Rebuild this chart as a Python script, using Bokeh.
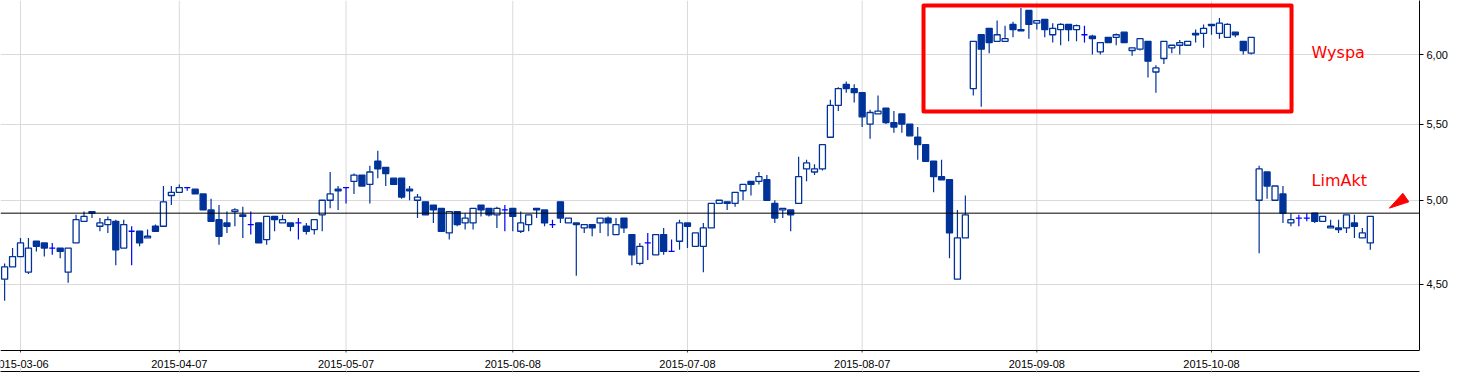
import numpy as np
from bokeh.plotting import figure
from bokeh.models import (Range1d, FixedTicker, CustomJSTickFormatter, Span, Label)
from bokeh.core.properties import value
from bokeh.embed import file_html
from bokeh.resources import INLINE

# ---------------- data ----------------
first_index = -2   # trading-day index of the first candle (0 = 2015-03-06)

opens = [4.53, 4.60, 4.66, 4.57, 4.75, 4.74, 4.71, 4.71, 4.57, 4.74,
         4.87, 4.93, 4.84, 4.85, 4.87, 4.71, 4.81, 4.81, 4.77, 4.84,
         4.84, 5.03, 5.05, 5.08, 5.07, 5.04, 4.94, 4.88, 4.86, 4.93,
         4.91, 4.85, 4.86, 4.76, 4.90, 4.86, 4.86, 4.86, 4.84, 4.82,
         4.91, 5.00, 5.07, 5.08, 5.12, 5.16, 5.10, 5.25, 5.21, 5.14,
         5.14, 5.07, 5.00, 4.99, 4.97, 4.95, 4.80, 4.93, 4.86, 4.86,
         4.97, 4.95, 4.91, 4.94, 4.95, 4.81, 4.85, 4.95, 4.94, 4.85,
         4.99, 4.86, 4.86, 4.83, 4.85, 4.86, 4.89, 4.79, 4.89, 4.79,
         4.62, 4.74, 4.67, 4.79, 4.69, 4.75, 4.86, 4.72, 4.72, 4.83,
         4.98, 4.99, 4.98, 5.06, 5.12, 5.12, 5.13, 4.98, 4.94, 4.94,
         4.98, 5.20, 5.18, 5.20, 5.41, 5.63, 5.78, 5.75, 5.72, 5.50,
         5.57, 5.61, 5.51, 5.57, 5.50, 5.41, 5.36, 5.25, 5.15, 5.13,
         4.53, 4.77, 5.75, 6.15, 6.20, 6.10, 6.10, 6.23, 6.19, 6.34,
         6.24, 6.27, 6.15, 6.19, 6.23, 6.19, 6.15, 6.14, 6.02, 6.13,
         6.13, 6.17, 6.03, 6.04, 6.10, 5.87, 5.97, 6.05, 6.07, 6.07,
         6.16, 6.16, 6.23, 6.16, 6.13, 6.17, 6.10, 6.01, 5.00, 5.18,
         5.00, 5.04, 4.86, 4.89, 4.89, 4.92, 4.87, 4.83, 4.83, 4.83,
         4.86, 4.77, 4.74]
highs = [4.62, 4.71, 4.77, 4.77, 4.75, 4.74, 4.74, 4.71, 4.71, 4.91,
         4.93, 4.93, 4.89, 4.90, 4.88, 4.88, 4.84, 4.81, 4.82, 4.85,
         5.09, 5.09, 5.10, 5.08, 5.07, 5.04, 5.01, 4.97, 4.93, 4.95,
         4.96, 4.93, 4.86, 4.90, 4.90, 4.91, 4.86, 4.89, 4.86, 4.88,
         5.00, 5.18, 5.09, 5.08, 5.17, 5.16, 5.22, 5.32, 5.21, 5.14,
         5.14, 5.09, 5.04, 4.99, 4.97, 4.95, 4.93, 4.93, 4.92, 4.95,
         4.97, 4.95, 4.96, 4.97, 4.95, 4.93, 4.91, 4.95, 4.94, 4.88,
         4.99, 4.89, 4.86, 4.85, 4.85, 4.89, 4.90, 4.89, 4.89, 4.79,
         4.74, 4.80, 4.79, 4.83, 4.76, 4.88, 4.86, 4.80, 4.86, 4.98,
         5.00, 4.99, 5.05, 5.10, 5.12, 5.18, 5.16, 5.00, 4.95, 4.94,
         5.28, 5.26, 5.23, 5.36, 5.67, 5.76, 5.80, 5.78, 5.72, 5.60,
         5.70, 5.61, 5.59, 5.57, 5.50, 5.48, 5.36, 5.25, 5.26, 5.13,
         4.94, 5.03, 6.10, 6.15, 6.20, 6.26, 6.22, 6.25, 6.36, 6.34,
         6.26, 6.27, 6.24, 6.24, 6.23, 6.23, 6.22, 6.15, 6.09, 6.13,
         6.16, 6.17, 6.05, 6.12, 6.10, 5.92, 6.10, 6.07, 6.11, 6.10,
         6.19, 6.23, 6.23, 6.28, 6.24, 6.17, 6.10, 6.13, 5.22, 5.18,
         5.09, 5.09, 4.92, 4.91, 4.92, 4.92, 4.90, 4.88, 4.88, 4.91,
         4.91, 4.83, 4.90]
lows = [4.41, 4.60, 4.66, 4.56, 4.69, 4.66, 4.67, 4.65, 4.51, 4.74,
        4.87, 4.89, 4.81, 4.80, 4.61, 4.71, 4.61, 4.72, 4.77, 4.81,
        4.84, 4.97, 5.05, 5.06, 5.04, 4.94, 4.87, 4.73, 4.80, 4.84,
        4.77, 4.79, 4.74, 4.73, 4.81, 4.86, 4.81, 4.76, 4.79, 4.79,
        4.81, 4.95, 4.94, 4.98, 5.04, 5.09, 4.98, 5.14, 5.09, 5.10,
        5.01, 5.00, 4.89, 4.91, 4.86, 4.81, 4.76, 4.84, 4.82, 4.82,
        4.90, 4.90, 4.83, 4.81, 4.81, 4.80, 4.81, 4.89, 4.84, 4.83,
        4.86, 4.86, 4.55, 4.80, 4.78, 4.80, 4.78, 4.79, 4.80, 4.61,
        4.61, 4.64, 4.67, 4.67, 4.69, 4.70, 4.71, 4.72, 4.57, 4.83,
        4.98, 4.94, 4.96, 5.00, 5.03, 5.10, 5.00, 4.86, 4.89, 4.81,
        4.98, 5.12, 5.16, 5.19, 5.41, 5.59, 5.72, 5.65, 5.48, 5.40,
        5.57, 5.50, 5.44, 5.44, 5.42, 5.26, 5.25, 5.05, 5.13, 4.65,
        4.53, 4.77, 5.70, 5.62, 6.01, 6.10, 6.10, 6.13, 6.18, 6.12,
        6.19, 6.13, 6.09, 6.07, 6.10, 6.10, 6.09, 6.00, 6.00, 6.09,
        6.07, 6.09, 5.99, 6.03, 5.83, 5.72, 5.93, 6.01, 6.00, 6.07,
        6.09, 6.05, 6.15, 6.12, 6.13, 6.13, 6.00, 6.00, 4.68, 5.01,
        5.00, 4.86, 4.84, 4.84, 4.87, 4.86, 4.87, 4.83, 4.80, 4.80,
        4.77, 4.77, 4.70]
closes = [4.60, 4.66, 4.74, 4.71, 4.72, 4.71, 4.71, 4.69, 4.71, 4.88,
          4.90, 4.92, 4.86, 4.88, 4.70, 4.85, 4.81, 4.74, 4.78, 4.81,
          4.99, 5.05, 5.08, 5.08, 5.04, 4.94, 4.87, 4.78, 4.84, 4.94,
          4.90, 4.85, 4.74, 4.90, 4.88, 4.88, 4.84, 4.86, 4.81, 4.88,
          5.00, 5.04, 5.06, 5.08, 5.16, 5.09, 5.18, 5.20, 5.17, 5.10,
          5.02, 5.06, 5.02, 4.91, 4.94, 4.81, 4.93, 4.85, 4.89, 4.95,
          4.94, 4.91, 4.95, 4.94, 4.90, 4.86, 4.91, 4.94, 4.86, 4.85,
          4.89, 4.89, 4.85, 4.85, 4.83, 4.89, 4.86, 4.85, 4.83, 4.67,
          4.72, 4.74, 4.79, 4.69, 4.69, 4.86, 4.84, 4.80, 4.83, 4.98,
          5.00, 4.98, 5.05, 5.10, 5.10, 5.15, 5.00, 4.89, 4.95, 4.91,
          5.15, 5.24, 5.20, 5.36, 5.63, 5.75, 5.75, 5.72, 5.55, 5.58,
          5.59, 5.51, 5.48, 5.50, 5.42, 5.36, 5.25, 5.15, 5.13, 4.80,
          4.77, 4.91, 6.10, 6.04, 6.09, 6.15, 6.12, 6.19, 6.18, 6.23,
          6.26, 6.19, 6.20, 6.23, 6.19, 6.22, 6.15, 6.12, 6.09, 6.09,
          6.15, 6.09, 6.05, 6.12, 5.95, 5.90, 6.10, 6.07, 6.09, 6.10,
          6.15, 6.20, 6.22, 6.24, 6.23, 6.15, 6.03, 6.13, 5.20, 5.09,
          5.09, 4.92, 4.88, 4.89, 4.89, 4.87, 4.90, 4.84, 4.82, 4.91,
          4.84, 4.80, 4.90]

tick_index = [0, 20, 41, 62, 84, 106, 128, 150]
tick_labels = ["2015-03-06", "2015-04-07", "2015-05-07", "2015-06-08",
               "2015-07-08", "2015-08-07", "2015-09-08", "2015-10-08"]
price_ticks = [4.5, 5.0, 5.5, 6.0]
ref_level = 4.92

# annotations (index / price space)
box_x = [113.73, 160.08]
box_y = [5.587, 6.379]
note_texts = ["Wyspa", "LimAkt"]
note_x = [162.6, 162.6]
note_y = [6.015, 5.122]
arrow_x = [172.4, 174.1, 174.85]
arrow_y = [4.951, 5.044, 4.99]

# ---------------- layout levels (price space of the log axis) ----------------
Y_TOP = 6.4193        # top of the drawing area
Y_AXIS = 4.1434       # price panel bottom line
Y_TICK = 4.1331       # end of the small date ticks
Y_LABEL = 4.0715      # baseline of the date labels
Y_GRID2 = 4.0562      # gridline restarts under the labels
Y_BOTTOM = 4.036      # top line of the next panel
X_LEFT, X_RIGHT = -2.519, 176.196

# ---------------- styling ----------------
DARK = "#003399"
BRIGHT = "#0000ff"
GRID = "#dadada"
FONT = "Liberation Sans"

x = np.arange(len(opens)) + first_index
o = np.array(opens); h = np.array(highs); l = np.array(lows); c = np.array(closes)
up = c > o
down = c < o
doji = c == o
nd = ~doji
tx = np.array(tick_index, dtype=float)

p = figure(frame_width=1419, frame_height=371,
           x_range=Range1d(X_LEFT, X_RIGHT), y_range=Range1d(Y_BOTTOM, Y_TOP),
           y_axis_type="log", y_axis_location="right",
           output_backend="svg", toolbar_location=None,
           min_border_left=0, min_border_top=0, min_border_right=36, min_border_bottom=0,
           background_fill_color="white", border_fill_color="white",
           outline_line_color=None)

# right price axis (line only along the price panel)
yax = p.yaxis[0]
yax.ticker = FixedTicker(ticks=price_ticks)
yax.formatter = CustomJSTickFormatter(code="return tick.toFixed(2).replace('.', ',');")
yax.bounds = (Y_AXIS, Y_TOP)
yax.major_tick_out = 4
yax.major_tick_in = 0
yax.minor_tick_out = 0
yax.minor_tick_in = 0
yax.major_label_standoff = 3
yax.major_label_text_font = FONT
yax.major_label_text_font_size = "11px"
yax.major_label_text_color = "black"
yax.axis_line_color = "black"
yax.major_tick_line_color = "black"

# bottom axis = top border of the next panel (gridline stubs as ticks)
xax = p.xaxis[0]
xax.ticker = FixedTicker(ticks=tick_index)
xax.major_label_overrides = {t: "" for t in tick_index}
xax.major_tick_out = 2
xax.major_tick_in = 0
xax.minor_tick_out = 0
xax.minor_tick_in = 0
xax.major_label_standoff = 0
xax.major_label_text_font_size = "1px"
xax.axis_line_color = "black"
xax.major_tick_line_color = GRID

p.xgrid.visible = False
p.ygrid.ticker = FixedTicker(ticks=price_ticks)
p.ygrid.grid_line_color = GRID
p.ygrid.grid_line_width = 1

# vertical gridlines (price panel and under the labels)
p.segment(tx, Y_AXIS, tx, Y_TOP, line_color=GRID, line_width=1)
p.segment(tx, Y_BOTTOM, tx, Y_GRID2, line_color=GRID, line_width=1)

# price panel bottom line + date ticks + date labels
p.add_layout(Span(location=Y_AXIS, dimension="width", line_color="black", line_width=1))
p.segment(tx, Y_AXIS, tx, Y_TICK, line_color="#444444", line_width=1)
p.text(x=tx, y=[Y_LABEL] * len(tick_index), text=tick_labels,
       text_font=value(FONT), text_font_size="11px", text_color="black",
       text_align="center", text_baseline="alphabetic")

# reference line
p.add_layout(Span(location=ref_level, dimension="width", line_color="black", line_width=1))

# wicks
p.segment(x[nd], l[nd], x[nd], h[nd], line_color=DARK, line_width=1.2)
p.segment(x[doji], l[doji], x[doji], h[doji], line_color=BRIGHT, line_width=1.2)

# bodies
bw = 0.76
p.vbar(x=x[down], top=o[down], bottom=c[down], width=bw,
       fill_color=DARK, line_color=DARK, line_width=1.3)
p.vbar(x=x[up], top=c[up], bottom=o[up], width=bw,
       fill_color="white", line_color=DARK, line_width=1.3)
p.segment(x[doji] - bw / 2, c[doji], x[doji] + bw / 2, c[doji],
          line_color=BRIGHT, line_width=1.3)

# annotations
p.quad(left=[box_x[0]], right=[box_x[1]], bottom=[box_y[0]], top=[box_y[1]],
       fill_color=None, line_color="red", line_width=4, line_join="round")
for t, txx, ty in zip(note_texts, note_x, note_y):
    p.add_layout(Label(x=txx, y=ty, text=t, text_color="red", text_font="DejaVu Sans",
                       text_font_size="16px", text_baseline="alphabetic", text_align="left"))
p.patch(arrow_x, arrow_y, fill_color="red", line_color="red", line_width=1)

open("out.html", "w").write(file_html(p, INLINE))
